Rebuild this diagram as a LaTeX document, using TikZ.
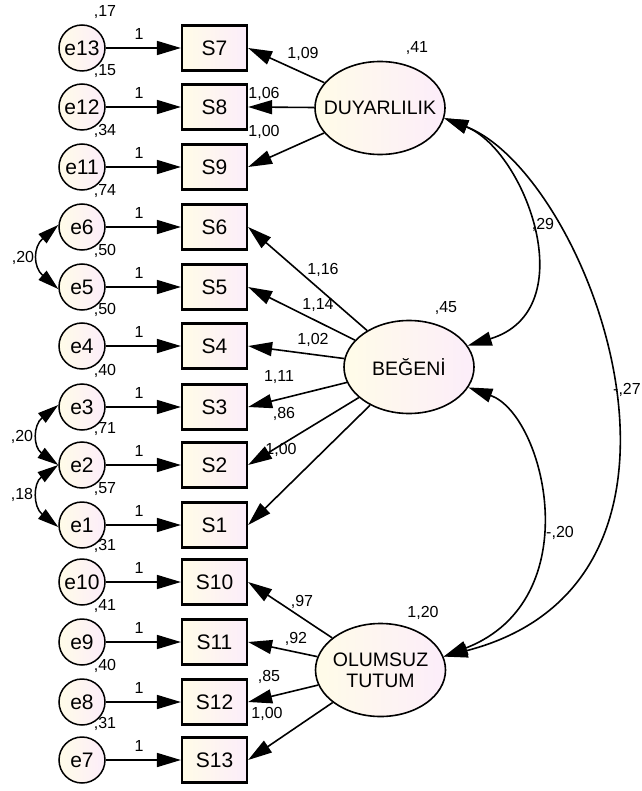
\documentclass[tikz,border=0pt]{standalone}
\usepackage{fontspec}
\setmainfont{Liberation Sans}
\usetikzlibrary{shapes.geometric,arrows.meta}
\definecolor{cream}{RGB}{255,252,232}
\definecolor{pinkish}{RGB}{252,237,250}
\begin{document}
\begin{tikzpicture}[x=1pt,y=-1pt,
  grad/.style={left color=cream,right color=pinkish},
  errn/.style={circle,draw,line width=1.5pt,grad,minimum size=46pt,inner sep=0pt,font=\fontsize{21}{24}\selectfont},
  obs/.style={rectangle,draw,line width=2.2pt,grad,minimum width=65pt,minimum height=45pt,inner sep=0pt,font=\fontsize{21}{24}\selectfont},
  lat/.style={ellipse,draw,line width=1.6pt,grad,minimum width=130pt,minimum height=93pt,inner xsep=-12pt,inner ysep=0pt,align=center,font=\fontsize{19.5}{21}\selectfont},
  lbl/.style={inner sep=0pt,font=\fontsize{16}{18}\selectfont},
  tip/.tip={Triangle[length=24pt,width=14pt]},
  arr/.style={line width=1.6pt,-tip},
  cov/.style={line width=1.6pt,tip-tip},
  ecov/.style={line width=1.5pt,{Triangle[length=21pt,width=12pt]}-{Triangle[length=21pt,width=12pt]}}]
\useasboundingbox (0,0) rectangle (641,791);

\foreach \e/\s/\y/\v in {13/7/48/{,17},12/8/107/{,15},11/9/167/{,34},6/6/227/{,74},5/5/287/{,50},4/4/346/{,50},3/3/407/{,40},2/2/465/{,71},1/1/525/{,57},10/10/582/{,31},9/11/642/{,41},8/12/702/{,40},7/13/760/{,31}}{
  \node[errn] (e\e) at (82,\y) {e\e};
  \node[obs] (S\s) at (214.5,\y) {S\s};
  \draw[arr] (e\e) -- (S\s.west);
  \node[lbl] (one\e) at (139,\y-14) {1};
  \node[lbl] (var\e) at (105,\y-36) {\v};
}

\node[lat] (DUY) at (380,108) {DUYARLILIK};
\node[lat] (BEG) at (409,367) {BEĞENİ};
\node[lat] (OLU) at (380.5,670) {OLUMSUZ\\TUTUM};

\node[lbl] (vDUY) at (417,48) {,41};
\node[lbl] (vBEG) at (446,308) {,45};
\node[lbl] (vOLU) at (423,613) {1,20};

% loadings DUYARLILIK
\draw[arr] (DUY) -- (S7.east);
\draw[arr] (DUY) -- (S8.east);
\draw[arr] (DUY) -- (S9.east);
\node[lbl] (l7) at (303,54) {1,09};
\node[lbl] (l8) at (264,94) {1,06};
\node[lbl] (l9) at (264,132) {1,00};

% loadings BEGENI
\draw[arr] (BEG) -- (S6.east);
\draw[arr] (BEG) -- (S5.east);
\draw[arr] (BEG) -- (S4.east);
\draw[arr] (BEG) -- (S3.east);
\draw[arr] (BEG) -- (S2.east);
\draw[arr] (BEG) -- (S1.east);
\node[lbl] (l6) at (323,270) {1,16};
\node[lbl] (l5) at (318,305) {1,14};
\node[lbl] (l4) at (313,340) {1,02};
\node[lbl] (l3) at (279,377) {1,11};
\node[lbl] (l2) at (284,414) {,86};
\node[lbl] (l1) at (281,450) {1,00};

% loadings OLUMSUZ
\draw[arr] (OLU) -- (S10.east);
\draw[arr] (OLU) -- (S11.east);
\draw[arr] (OLU) -- (S12.east);
\draw[arr] (OLU) -- (S13.east);
\node[lbl] (l10) at (302,602) {,97};
\node[lbl] (l11) at (296,639) {,92};
\node[lbl] (l12) at (269,677) {,85};
\node[lbl] (l13) at (267,714) {1,00};

% latent covariances
\draw[cov] (DUY.-9) .. controls (525,150) and (585,310) .. (BEG.20);
\draw[cov] (DUY.-9) .. controls (590,175) and (740,580) .. (OLU.12);
\draw[cov] (BEG.-19) .. controls (545,415) and (590,600) .. (OLU.12);
\node[lbl] (c1) at (543,225) {,29};
\node[lbl,anchor=west] (c2) at (613,390) {-,27};
\node[lbl] (c3) at (560,533) {-,20};

% error covariances
\draw[ecov] (e6.175) .. controls (33,247) and (33,267) .. (e5.185);
\draw[ecov] (e3.175) .. controls (33,425) and (33,447) .. (e2.180);
\draw[ecov] (e2.180) .. controls (33,483) and (33,507) .. (e1.185);
\node[lbl] (ce1) at (23,258) {,20};
\node[lbl] (ce2) at (22,437) {,20};
\node[lbl] (ce3) at (22,495) {,18};
\end{tikzpicture}
\end{document}
